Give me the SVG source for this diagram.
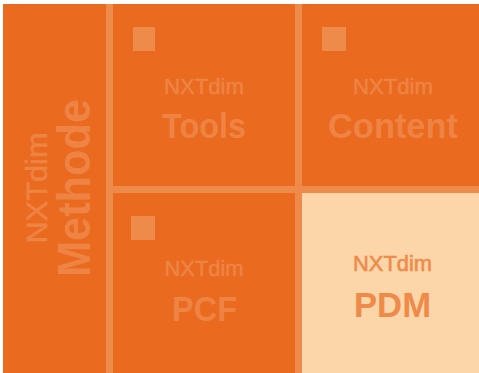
<svg xmlns="http://www.w3.org/2000/svg" width="479" height="373" viewBox="0 0 479 373">
  <style>
    .cell { fill: #EA6A20; }
    .sq { fill: #EF8B4A; }
    .sub { font-family: "Liberation Sans", Arial, sans-serif; font-size: 22px; fill: #EE8343; stroke: #EE8343; stroke-width: 0.6; text-anchor: middle; }
    .main { font-family: "Liberation Sans", Arial, sans-serif; font-size: 35px; font-weight: bold; fill: #EE8343; text-anchor: middle; }
    .light .sub, .light .main { fill: #F08A4A; stroke: none; }
    .light .sub { stroke: #F08A4A; }
  </style>
  <rect x="0" y="0" width="479" height="373" fill="#FFFFFF"/>
  <rect x="3" y="4" width="476" height="369" fill="#EF8B4A"/>
  <g id="methode">
    <rect class="cell" x="3" y="4" width="103" height="369"/>
    <text class="sub" transform="translate(47,188) rotate(-90)" style="font-size:30px" textLength="111" lengthAdjust="spacingAndGlyphs">NXTdim</text>
    <text class="main" transform="translate(90,188) rotate(-90)" style="font-size:46px" textLength="178" lengthAdjust="spacingAndGlyphs">Methode</text>
  </g>
  <g id="tools">
    <rect class="cell" x="113" y="4" width="182" height="182"/>
    <rect class="sq" x="133" y="27" width="22" height="24"/>
    <text class="sub" x="204" y="94" textLength="80" lengthAdjust="spacingAndGlyphs">NXTdim</text>
    <text class="main" x="204" y="138" textLength="84" lengthAdjust="spacingAndGlyphs">Tools</text>
  </g>
  <g id="content">
    <rect class="cell" x="302" y="4" width="177" height="182"/>
    <rect class="sq" x="322" y="27" width="24" height="24"/>
    <text class="sub" x="393" y="94" textLength="80" lengthAdjust="spacingAndGlyphs">NXTdim</text>
    <text class="main" x="393" y="138" textLength="130" lengthAdjust="spacingAndGlyphs">Content</text>
  </g>
  <g id="pcf">
    <rect class="cell" x="113" y="193" width="182" height="180"/>
    <rect class="sq" x="131" y="216" width="24" height="24"/>
    <text class="sub" x="204" y="276" textLength="79" lengthAdjust="spacingAndGlyphs">NXTdim</text>
    <text class="main" x="204.5" y="321" textLength="65" lengthAdjust="spacingAndGlyphs">PCF</text>
  </g>
  <g id="pdm" class="light">
    <rect x="302" y="193" width="177" height="180" fill="#FCD6A9"/>
    <text class="sub" x="392.5" y="271" textLength="79" lengthAdjust="spacingAndGlyphs">NXTdim</text>
    <text class="main" x="392.5" y="317" textLength="77" lengthAdjust="spacingAndGlyphs">PDM</text>
  </g>
  <g id="connectors"/>
</svg>
